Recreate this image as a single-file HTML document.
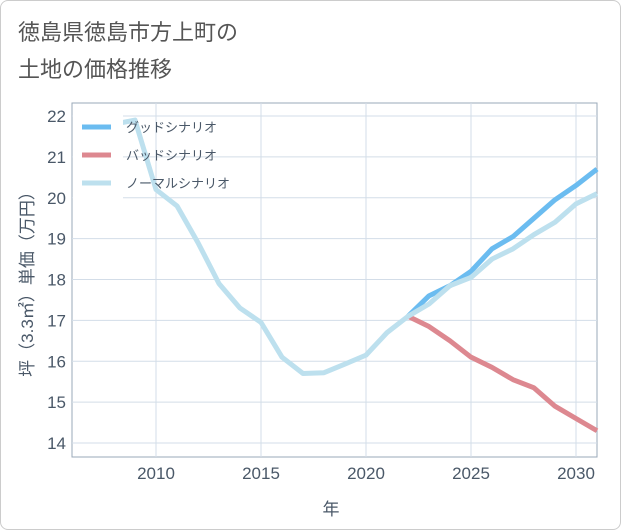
<!DOCTYPE html>
<html><head><meta charset="utf-8"><style>
body{margin:0;background:#fff;font-family:"Liberation Sans","Noto Sans CJK JP",sans-serif;}
#card{position:absolute;left:0;top:0;width:619px;height:528px;border:1px solid #ccc;border-radius:8px;background:#fff;}
</style></head><body>
<div id="card">
<svg id="chart" width="621" height="530" style="position:absolute;left:-1px;top:-1px">
<text x="18" y="40" font-size="22" fill="#555">徳島県徳島市方上町の</text>
<text x="18" y="77" font-size="22" fill="#555">土地の価格推移</text>
<g id="grid"></g><g id="series"></g><g id="legend"></g>
<text x="331" y="515" font-size="17" fill="#4a5868" text-anchor="middle">年</text>
<text transform="translate(33,280) rotate(-90)" font-size="17" fill="#4a5868" text-anchor="middle">坪（3.3㎡）単価（万円）</text>
</svg></div>
<script>
const years=[2008,2009,2010,2011,2012,2013,2014,2015,2016,2017,2018,2019,2020,2021,2022,2023,2024,2025,2026,2027,2028,2029,2030,2031];
const normal=[21.8,21.9,20.2,19.8,18.9,17.9,17.3,16.95,16.1,15.7,15.72,15.93,16.15,16.7,17.1,17.4,17.85,18.05,18.5,18.75,19.1,19.4,19.85,20.1];
const goodYears=[2022,2023,2024,2025,2026,2027,2028,2029,2030,2031];
const good=[17.1,17.6,17.85,18.2,18.75,19.05,19.5,19.95,20.3,20.7];
const bad=[17.1,16.85,16.5,16.1,15.85,15.55,15.35,14.9,14.6,14.3];
const xTicks=[2010,2015,2020,2025,2030];
const yTicks=[14,15,16,17,18,19,20,21,22];
const X0=72,X1=597,Y0=103,Y1=457;
const x=v=>X0+(v-2006)/(2031-2006)*(X1-X0);
const y=v=>443-(v-14)*40.875;
const NS='http://www.w3.org/2000/svg';
function mk(t,a,p){const e=document.createElementNS(NS,t);for(const k in a)e.setAttribute(k,a[k]);p.appendChild(e);return e;}
const g=document.getElementById('grid');
let r=mk('rect',{x:X0,y:Y0,width:X1-X0,height:Y1-Y0,fill:'#fff',stroke:'#9aa8b8','stroke-width':1},g);


xTicks.forEach(v=>{let l=mk('line',{x1:x(v),x2:x(v),y1:Y0,y2:Y1,stroke:'#d3dde8'},g);


let t=mk('text',{x:x(v),y:479,'font-size':17,fill:'#4a5868','text-anchor':'middle'},g);t.textContent=v;

});
yTicks.forEach(v=>{let l=mk('line',{x1:X0,x2:X1,y1:y(v),y2:y(v),stroke:'#d3dde8'},g);


let t=mk('text',{x:66,y:y(v)+6,'font-size':17,fill:'#4a5868','text-anchor':'end'},g);t.textContent=v;

});
const s=document.getElementById('series');
function line(xs,vs,c,n){let p=mk('polyline',{points:xs.map((v,i)=>x(v)+','+y(vs[i])).join(' '),fill:'none',stroke:c,'stroke-width':5,'stroke-linejoin':'round'},s);

}
line(goodYears,good,'#6bbcf0','good-scenario-line');
line(goodYears,bad,'#dd8890','bad-scenario-line');
line(years,normal,'#bde0ee','normal-scenario-line');
const lg=document.getElementById('legend');
let bg=mk('rect',{x:73,y:112,width:50,height:88,fill:'#fff'},lg);


[['グッドシナリオ','#6bbcf0',127],['バッドシナリオ','#dd8890',155],['ノーマルシナリオ','#bde0ee',183]].forEach(([n,c,yy],i)=>{
let l=mk('line',{x1:82,x2:111,y1:yy,y2:yy,stroke:c,'stroke-width':5},lg);


let t=mk('text',{x:126,y:yy+5,'font-size':13,fill:'#4a5868'},lg);t.textContent=n;

});
</script></body></html>
